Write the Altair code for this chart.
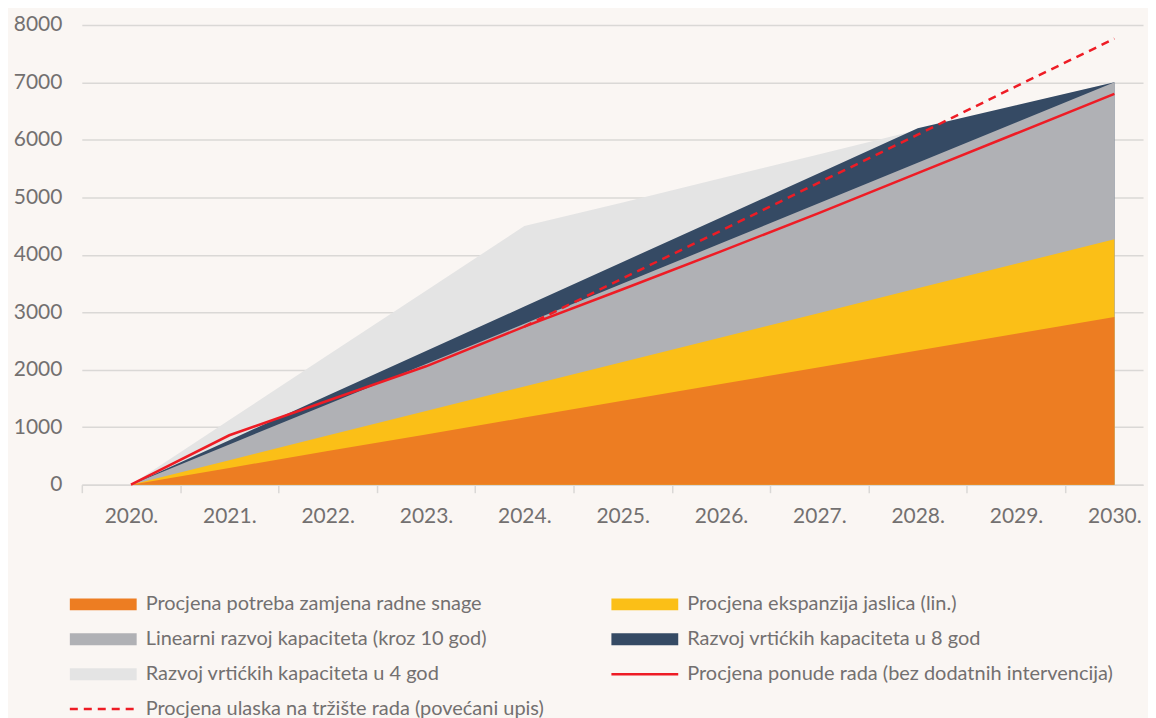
import altair as alt
import pandas as pd

years = list(range(2020, 2031))
names = [
    "Procjena potreba zamjena radne snage",
    "Procjena ekspanzija jaslica (lin.)",
    "Linearni razvoj kapaciteta (kroz 10 god)",
    "Razvoj vrtićkih kapaciteta u 8 god",
    "Razvoj vrtićkih kapaciteta u 4 god",
    "Procjena ponude rada (bez dodatnih intervencija)",
    "Procjena ulaska na tržište rada (povećani upis)",
]
orange = [0, 292, 584, 875, 1167, 1459, 1751, 2042, 2334, 2626, 2917]
yellow = [0, 427, 854, 1281, 1708, 2135, 2562, 2989, 3416, 3843, 4270]
gray = [0, 700, 1400, 2100, 2800, 3500, 4200, 4900, 5600, 6300, 7000]
navy = [0, 775, 1550, 2325, 3100, 3875, 4650, 5425, 6200, 6600, 7000]
light = [0, 1125, 2250, 3375, 4500, 4910, 5330, 5750, 6170, 6590, 7000]
red = [0, 860, 1460, 2060, 2750, 3400, 4060, 4730, 5420, 6110, 6800]
dashed = [None, None, None, None, 2750, 3590, 4420, 5260, 6090, 6930, 7760]
colors = ["#ED7D22", "#FBBF17", "#B0B1B5", "#354A64", "#E4E4E4", "#EE1C25", "#EE1C25"]

series_values = [orange, yellow, gray, navy, light, red, dashed]
rows = []
for name, vals in zip(names, series_values):
    for yr, v in zip(years, vals):
        if v is not None:
            rows.append({"year": yr, "series": name, "value": v})
df = pd.DataFrame(rows)

W, H = 1064, 461
PX = 98.6
D0 = 2019.5
D1 = D0 + W / PX
TXT = "#737070"
GRID = "#DAD8D6"

LFS = 20           # legend font size -> entry size 20, symbol centre x = 10
U = 6.0            # path unit in px (sqrt(144)/2)
L = -10 / U
R = (-10 + 67) / U
rect = f"M{L:.3f},-1L{R:.3f},-1L{R:.3f},1L{L:.3f},1Z"
line = f"M{L:.3f},0L{R:.3f},0"

leg = alt.Legend(
    title=None, orient="none", legendX=-12, legendY=571, columns=2, direction="horizontal",
    symbolType={"expr": f"datum.index >= 5 ? '{line}' : '{rect}'"},
    symbolSize=144,
    symbolStrokeWidth={"expr": "datum.index >= 5 ? 2.5 : 0"},
    symbolStrokeColor={"expr": "scale('color', datum.value)"},
    symbolDash={"expr": "datum.index == 6 ? [8, 6] : [1, 0]"},
    symbolOpacity=1,
    labelFont="Lato", labelFontSize=LFS, labelColor=TXT, labelOffset=56, labelLimit=700,
    rowPadding=15, columnPadding=61, padding=0,
)

x = alt.X("year:Q", scale=alt.Scale(domain=[D0, D1], nice=False, zero=False),
          axis=alt.Axis(values=years, format="d", labelExpr="datum.label + '.'",
                        tickOffset=-PX / 2, labelOffset=PX / 2, grid=False,
                        ticks=True, tickSize=8, tickColor=GRID, tickWidth=1.5,
                        domainColor=GRID, domainWidth=1.5, labelFontSize=21,
                        labelColor=TXT, labelPadding=13, labelFlush=False,
                        labelOverlap=False, title=None))
y = alt.Y("value:Q", stack=None, scale=alt.Scale(domain=[0, 8000], nice=False),
          axis=alt.Axis(values=list(range(0, 8001, 1000)), format="d", grid=True,
                        gridColor=GRID, gridWidth=1.5, domain=False, ticks=False,
                        labelFontSize=21, labelColor=TXT, labelPadding=20, title=None))
color = alt.Color("series:N", scale=alt.Scale(domain=names, range=colors), legend=leg)

base = alt.Chart(df)

def layer(i, kind):
    c = base.transform_filter(alt.datum.series == names[i])
    if kind == "area":
        m = c.mark_area(opacity=1, interpolate="linear")
    elif kind == "line":
        m = c.mark_line(strokeWidth=2.5, opacity=1)
    else:
        m = c.mark_line(strokeWidth=2.5, strokeDash=[8, 6], opacity=1)
    return m.encode(x=x, y=y, color=color)

chart = alt.layer(
    layer(4, "area"), layer(3, "area"), layer(2, "area"), layer(1, "area"), layer(0, "area"),
    layer(5, "line"), layer(6, "dash"),
).properties(width=W, height=H, background="#FAF6F3").configure(font="Lato").configure_view(stroke=None)

chart.save("out.html", embed_options={"renderer": "svg", "actions": False})
